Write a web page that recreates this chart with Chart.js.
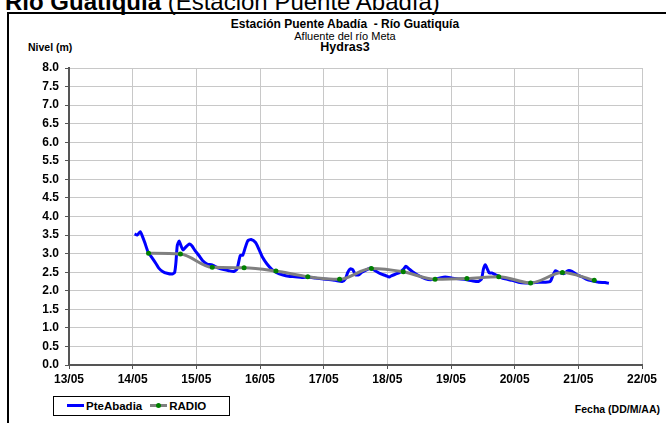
<!DOCTYPE html>
<html>
<head>
<meta charset="utf-8">
<script src="https://cdn.jsdelivr.net/npm/chart.js@4.4.1/dist/chart.umd.min.js"></script>
<style>
  html, body { margin: 0; padding: 0; background: #fff; overflow: hidden; }
  body { width: 666px; height: 423px; position: relative; font-family: "Liberation Sans", Arial, sans-serif; }
  .abs { position: absolute; white-space: nowrap; }
  #frame { left: 7px; top: 12px; width: 700px; height: 450px; border: 2px solid #000; }
  #heading { left: 5px; top: -10px; font-size: 24px; line-height: 24px; }
  .ttl { left: 145px; width: 400px; text-align: center; line-height: 13px; }
  #legend { left: 53px; top: 396px; width: 175px; height: 18px; border: 1px solid #000; font-size: 11.5px; font-weight: bold; line-height: 18px; }
  .sw { display: inline-block; position: relative; width: 17px; height: 3px; vertical-align: middle; margin: 0 2px 2px 13px; }
  .dot { position: absolute; left: 6px; top: -1px; width: 5px; height: 5px; border-radius: 50%; background: #008000; }
  canvas { position: absolute; left: 0; top: 0; }
</style>
</head>
<body>
<div id="frame" class="abs"></div>
<div id="heading" class="abs"><b>Río Guatiquía</b> (Estación Puente Abadía)</div>
<div class="abs ttl" style="top:18px;font-size:12px;font-weight:bold">Estación Puente Abadía &nbsp;- Río Guatiquía</div>
<div class="abs ttl" style="top:30px;font-size:11px">Afluente del río Meta</div>
<div class="abs ttl" style="top:41px;font-size:12.5px;font-weight:bold">Hydras3</div>
<div class="abs" style="left:28px;top:41px;font-size:10.5px;font-weight:bold">Nivel (m)</div>
<div class="abs" style="right:6px;top:403px;font-size:10.5px;font-weight:bold">Fecha (DD/M/AA)</div>
<div id="legend" class="abs">
  <span class="sw" style="background:#0000ff"></span>PteAbadia<span class="sw" style="background:#808080;margin-left:8px"><span class="dot"></span></span>RADIO
</div>
<canvas id="chart" width="666" height="423"></canvas>
<script>
// x values are day-of-month (May), 14.5 = 14/05 12:00
const padDays = [14.03, 14.07, 14.12, 14.15, 14.19, 14.24, 14.30, 14.37, 14.41, 14.47, 14.54, 14.62, 14.66, 14.68,
  14.70, 14.73, 14.76, 14.79, 14.83, 14.89, 14.93, 14.98, 15.04, 15.10, 15.17, 15.24, 15.29, 15.35, 15.43, 15.51,
  15.59, 15.64, 15.69, 15.73, 15.77, 15.81, 15.86, 15.93, 15.98, 16.04, 16.11, 16.19, 16.27, 16.35, 16.45, 16.55,
  16.66, 16.76, 16.87, 16.97, 17.08, 17.18, 17.29, 17.34, 17.38, 17.42, 17.46, 17.50, 17.55, 17.60, 17.68, 17.74,
  17.81, 17.89, 17.97, 18.03, 18.07, 18.15, 18.20, 18.26, 18.29, 18.34, 18.39, 18.49, 18.60, 18.70, 18.81, 18.91,
  19.02, 19.12, 19.23, 19.33, 19.43, 19.48, 19.51, 19.54, 19.57, 19.60, 19.64, 19.70, 19.77, 19.85, 19.96, 20.06,
  20.17, 20.27, 20.38, 20.48, 20.56, 20.60, 20.64, 20.68, 20.72, 20.77, 20.84, 20.90, 20.98, 21.06, 21.14, 21.21,
  21.32, 21.42, 21.48];
const padLevels = [3.53, 3.50, 3.59, 3.48, 3.30, 3.05, 2.90, 2.72, 2.61, 2.52, 2.47, 2.45, 2.50, 2.77,
  3.21, 3.34, 3.21, 3.10, 3.17, 3.26, 3.21, 3.08, 2.95, 2.81, 2.72, 2.70, 2.66, 2.61, 2.57, 2.54,
  2.52, 2.59, 2.95, 2.96, 3.17, 3.35, 3.38, 3.30, 3.13, 2.90, 2.72, 2.57, 2.48, 2.43, 2.39, 2.38,
  2.36, 2.37, 2.34, 2.32, 2.30, 2.28, 2.25, 2.32, 2.50, 2.59, 2.56, 2.43, 2.43, 2.50, 2.57, 2.61,
  2.54, 2.46, 2.41, 2.37, 2.41, 2.46, 2.50, 2.59, 2.66, 2.59, 2.52, 2.41, 2.32, 2.30, 2.34, 2.37,
  2.34, 2.32, 2.30, 2.27, 2.25, 2.32, 2.59, 2.70, 2.59, 2.48, 2.48, 2.43, 2.37, 2.32, 2.28, 2.23,
  2.21, 2.21, 2.23, 2.23, 2.25, 2.41, 2.54, 2.50, 2.48, 2.46, 2.54, 2.52, 2.43, 2.37, 2.30, 2.27,
  2.23, 2.22, 2.20];

const radioDays = [14.25, 14.75, 15.25, 15.75, 16.25, 16.75, 17.25, 17.75, 18.25, 18.75, 19.25, 19.75, 20.25, 20.75, 21.25];
const radioLevels = [3.01, 2.99, 2.63, 2.62, 2.53, 2.38, 2.31, 2.60, 2.51, 2.31, 2.33, 2.38, 2.21, 2.49, 2.28];

const xMin = 13, xMax = 22;
const yMin = 0, yMax = 8;

const toPoints = (xs, ys) => xs.map((x, i) => ({ x: x, y: ys[i] }));

const tickFont = { family: "'Liberation Sans', Arial, sans-serif", size: 12, weight: "bold" };

new Chart(document.getElementById("chart").getContext("2d"), {
    type: "line",
    data: {
        datasets: [
            {
                label: "PteAbadia",
                data: toPoints(padDays, padLevels),
                borderColor: "#0000ff",
                borderWidth: 3,
                pointRadius: 0,
                tension: 0.2,
                order: 2,
            },
            {
                label: "RADIO",
                data: toPoints(radioDays, radioLevels),
                borderColor: "#808080",
                borderWidth: 3,
                pointRadius: 2.5,
                pointBackgroundColor: "#008000",
                pointBorderColor: "#008000",
                pointBorderWidth: 0,
                cubicInterpolationMode: "monotone",
                order: 1,
            },
        ],
    },
    options: {
        responsive: false,
        animation: false,
        layout: { padding: { left: 0, top: 68, right: 24, bottom: 28 } },
        plugins: {
            legend: { display: false },
            tooltip: { enabled: false },
        },
        scales: {
            x: {
                type: "linear",
                min: xMin,
                max: xMax,
                ticks: {
                    stepSize: 1,
                    font: tickFont,
                    color: "#000",
                    padding: 3,
                    maxRotation: 0,
                    callback: (v) => String(v).padStart(2, "0") + "/05",
                },
                grid: { color: "#c8c8c8", lineWidth: 1, tickLength: 4, tickColor: "#555" },
                border: { color: "#555", width: 2 },
                afterFit: (s) => { s.height = 30; s.paddingLeft = 0; s.paddingRight = 0; },
            },
            y: {
                min: yMin,
                max: yMax,
                ticks: {
                    stepSize: 0.5,
                    font: tickFont,
                    color: "#000",
                    padding: 6,
                    callback: (v) => v.toFixed(1),
                },
                grid: { color: "#c8c8c8", lineWidth: 1, tickLength: 4, tickColor: "#555" },
                border: { color: "#555", width: 2 },
                afterFit: (s) => { s.width = 69; s.paddingTop = 0; s.paddingBottom = 0; },
            },
        },
    },
});
</script>
</body>
</html>
